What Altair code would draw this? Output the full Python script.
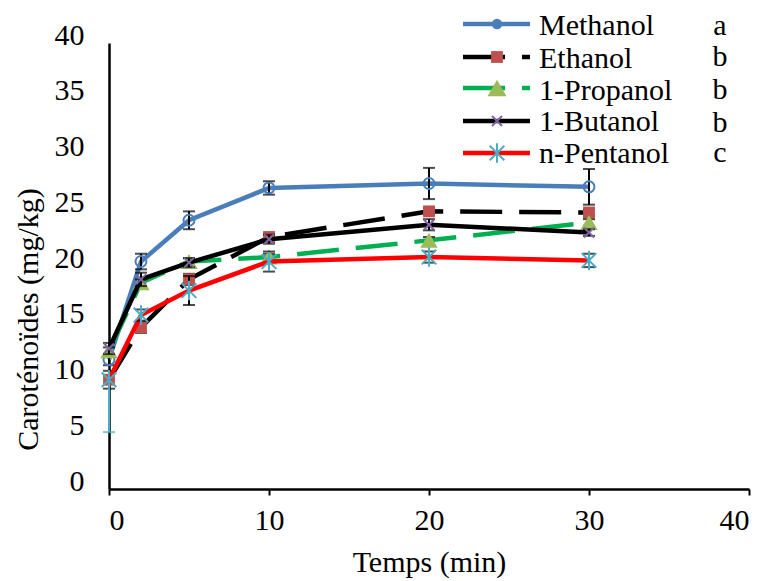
import altair as alt
import pandas as pd

# Extraction time (min)
times = [0, 2, 5, 10, 20, 30]

series_names = ["Methanol", "Ethanol", "1-Propanol", "1-Butanol", "n-Pentanol"]
group_letters = ["a", "b", "b", "b", "c"]

# Carotenoid content (mg/kg) per solvent
methanol = [11.6, 20.4, 24.1, 27.0, 27.4, 27.1]
ethanol = [9.8, 14.5, 18.8, 22.6, 24.9, 24.8]
propanol = [12.4, 18.5, 20.4, 20.8, 22.3, 23.9]
butanol = [12.6, 18.8, 20.3, 22.4, 23.7, 23.0]
pentanol = [9.8, 15.6, 17.8, 20.4, 20.8, 20.5]

# Error bars: minus and plus extents
methanol_minus = [0.5, 0.7, 0.8, 0.6, 1.4, 1.6]
methanol_plus = [0.5, 0.7, 0.8, 0.6, 1.4, 1.6]
ethanol_minus = [0.8, 0.5, 0.5, 0.3, 0.3, 0.3]
ethanol_plus = [0.8, 0.5, 0.5, 0.3, 0.3, 0.3]
propanol_minus = [0.3, 0.3, 0.3, 0.3, 0.3, 0.3]
propanol_plus = [0.3, 0.3, 0.3, 0.3, 0.3, 0.3]
butanol_minus = [0.5, 0.6, 0.4, 0.4, 0.5, 0.3]
butanol_plus = [0.5, 0.6, 0.4, 0.4, 0.5, 0.3]
pentanol_minus = [4.7, 0.5, 1.3, 0.9, 0.5, 0.6]
pentanol_plus = [0.0, 0.5, 1.3, 0.9, 0.5, 0.6]

values = [methanol, ethanol, propanol, butanol, pentanol]
minus = [methanol_minus, ethanol_minus, propanol_minus, butanol_minus, pentanol_minus]
plus = [methanol_plus, ethanol_plus, propanol_plus, butanol_plus, pentanol_plus]

FONT = "Liberation Serif, Times New Roman, serif"
FS = 30
DASH = [42, 17]

# Custom marker paths
X_PATH = "M-1,-1L1,1M-1,1L1,-1"
STAR_PATH = "M-0.75,-0.75L0.75,0.75M-0.75,0.75L0.75,-0.75M0,-1L0,1"

styles = {
    "Methanol": dict(line="#4a7ebb", dash=None, shape="circle", mcol="#4a7ebb",
                     filled=False, size=120, sw=2),
    "Ethanol": dict(line="#000000", dash=DASH, shape="square", mcol="#c0504d",
                    filled=True, size=140, sw=0),
    "1-Propanol": dict(line="#00b050", dash=DASH, shape="triangle-up", mcol="#9bbb59",
                       filled=True, size=300, sw=0),
    "1-Butanol": dict(line="#000000", dash=None, shape=X_PATH, mcol="#8064a2",
                      filled=False, size=100, sw=2),
    "n-Pentanol": dict(line="#ff0000", dash=None, shape=STAR_PATH, mcol="#4bacc6",
                       filled=False, size=380, sw=2),
}

rows = []
for name, vals, mn, pl in zip(series_names, values, minus, plus):
    for t, v, a, b in zip(times, vals, mn, pl):
        rows.append({"series": name, "t": t, "v": v, "em": a, "ep": b})
df = pd.DataFrame(rows)

xs = alt.Scale(domain=[0, 40], nice=False)
ys = alt.Scale(domain=[0, 40], nice=False)

x_axis = alt.Axis(
    values=[0, 10, 20, 30, 40], title="Temps (min)", grid=False,
    domainColor="black", domainWidth=2.5, tickColor="black", tickWidth=2,
    tickSize=6, labelFont=FONT, labelFontSize=FS, labelColor="black",
    labelPadding=10, titleFont=FONT, titleFontSize=FS, titleFontWeight="normal",
    titleColor="black", titleY=73, titleBaseline="middle",
)
y_axis = alt.Axis(
    values=list(range(0, 41, 5)), title="Caroténoïdes (mg/kg)", grid=False,
    domainColor="black", domainWidth=2.5, ticks=False, tickSize=0,
    labelFont=FONT, labelFontSize=FS, labelColor="black", labelPadding=25,
    labelOffset=-8, titleFont=FONT, titleFontSize=FS, titleFontWeight="normal",
    titleColor="black", titleX=-81, titleY=276, titleBaseline="middle",
    titleAngle=270,
)

# Axes carried by an invisible frame layer
frame = alt.Chart(df).mark_point(opacity=0).encode(
    x=alt.X("t:Q", scale=xs, axis=x_axis),
    y=alt.Y("v:Q", scale=ys, axis=y_axis),
)
layers = [frame]
for name in series_names:
    st = styles[name]
    base = alt.Chart(df).transform_filter(alt.datum.series == name)
    line_kwargs = dict(color=st["line"], strokeWidth=4.5)
    if st["dash"]:
        line_kwargs["strokeDash"] = st["dash"]
    line = base.mark_line(**line_kwargs).encode(x="t:Q", y="v:Q")
    err = base.transform_calculate(
        lo="datum.v - datum.em", hi="datum.v + datum.ep",
        ec="(datum.series == 'n-Pentanol' && datum.t == 0) ? '#4bacc6' : 'black'",
    )
    bar = err.mark_rule(strokeWidth=2).encode(
        x="t:Q", y="lo:Q", y2="hi:Q", color=alt.Color("ec:N", scale=None)
    )
    cap_lo = err.transform_filter("datum.em > 0").mark_tick(
        orient="horizontal", size=12, thickness=2
    ).encode(x="t:Q", y="lo:Q", color=alt.Color("ec:N", scale=None))
    cap_hi = err.transform_filter("datum.ep > 0").mark_tick(
        orient="horizontal", size=12, thickness=2
    ).encode(x="t:Q", y="hi:Q", color=alt.Color("ec:N", scale=None))
    if st["filled"]:
        pt = base.mark_point(shape=st["shape"], size=st["size"], filled=True,
                             color=st["mcol"], opacity=1)
    else:
        pt = base.mark_point(shape=st["shape"], size=st["size"], filled=False,
                             stroke=st["mcol"], strokeWidth=st["sw"], opacity=1)
    pt = pt.encode(x="t:Q", y="v:Q")
    layers += [line, bar, cap_lo, cap_hi, pt]

# Legend drawn inside the plot area, top right
legend_line_y = [24, 57, 88, 121, 153]
legend_text_y = [35, 68, 100, 131, 163]
letter_y = [35, 66, 99, 132, 162]
for i, name in enumerate(series_names):
    st = styles[name]
    ld = pd.DataFrame({"label": [name], "grp": [group_letters[i]]})
    lb = alt.Chart(ld)
    rk = dict(color=st["line"], strokeWidth=4.5)
    if st["dash"]:
        rk["strokeDash"] = st["dash"]
    ln = lb.mark_rule(**rk).encode(
        x=alt.value(463 - 109), x2=alt.value(530 - 109), y=alt.value(legend_line_y[i] - 43)
    )
    if name == "Methanol":
        mk = lb.mark_point(shape="circle", size=110, filled=True, color=st["mcol"], opacity=1)
    elif st["filled"]:
        mk = lb.mark_point(shape=st["shape"], size=st["size"] + (60 if name == "1-Propanol" else 0),
                           filled=True, color=st["mcol"], opacity=1)
    else:
        mk = lb.mark_point(shape=st["shape"], size=st["size"], filled=False,
                           stroke=st["mcol"], strokeWidth=st["sw"], opacity=1)
    mk = mk.encode(x=alt.value(497 - 109), y=alt.value(legend_line_y[i] - 43))
    tx = lb.mark_text(font=FONT, fontSize=FS, align="left", baseline="alphabetic",
                      color="black").encode(
        text="label:N", x=alt.value(539 - 109), y=alt.value(legend_text_y[i] - 43)
    )
    gl = lb.mark_text(font=FONT, fontSize=FS, align="center", baseline="alphabetic",
                      color="black").encode(
        text="grp:N", x=alt.value(720 - 109), y=alt.value(letter_y[i] - 43)
    )
    layers += [ln, mk, tx, gl]

chart = alt.layer(*layers).properties(
    width=640, height=446,
    padding={"left": 109, "top": 43, "right": 21, "bottom": 92},
    autosize=alt.AutoSizeParams(type="none"),
    background="white",
).configure_view(stroke=None)

chart.save("out.html", embed_options={"renderer": "svg", "actions": False})
